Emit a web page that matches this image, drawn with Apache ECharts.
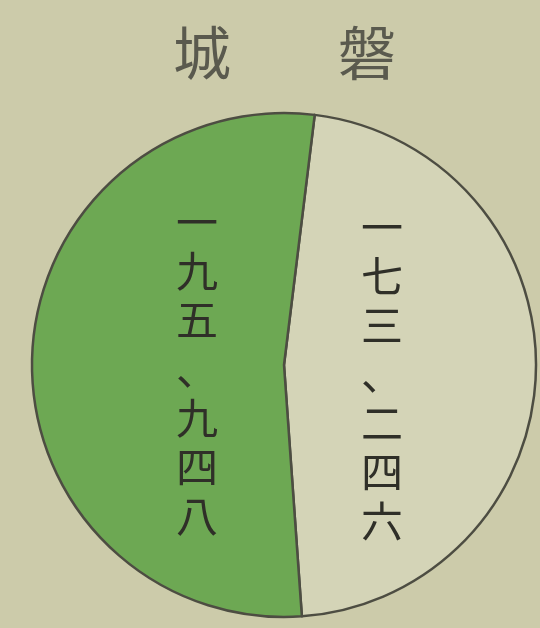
<!DOCTYPE html>
<html>
<head>
<meta charset="utf-8">
<script src="https://cdn.jsdelivr.net/npm/echarts@6/dist/echarts.min.js"></script>
<style>
html,body{margin:0;padding:0;background:#cccbaa;}
#c{width:540px;height:628px;}
</style>
</head>
<body>
<div id="c"></div>
<script>
// Data
var titleChars = ['磐', '城'];            // read right-to-left: 磐城
var categories = ['一七三、二四六', '一九五、九四八'];
var values = [173246, 195948];
var sliceColors = ['#d4d4b7', '#6da853'];

var chart = echarts.init(document.getElementById('c'));
var vertical = function (s) { return s.split('').join('\n'); };

var pieData = categories.map(function (n, i) {
  return { name: n, value: values[i], itemStyle: { color: sliceColors[i] } };
});
var labelData = categories.map(function (n, i) {
  return { name: n, value: values[i] };
});

chart.setOption({
  backgroundColor: '#cccbaa',
  animation: false,
  graphic: [
    { type: 'text', x: 367, y: 53, style: { text: titleChars[0], font: '58px "Noto Sans CJK JP"', fill: '#5a5a4e', textAlign: 'center', textVerticalAlign: 'middle' } },
    { type: 'text', x: 202, y: 53, style: { text: titleChars[1], font: '58px "Noto Sans CJK JP"', fill: '#5a5a4e', textAlign: 'center', textVerticalAlign: 'middle' } }
  ],
  series: [
    {
      type: 'pie',
      center: [284, 365],
      radius: [0, 252],
      startAngle: 83,
      clockwise: true,
      silent: true,
      label: { show: false },
      labelLine: { show: false },
      itemStyle: { borderColor: '#4d4d42', borderWidth: 2.5 },
      data: pieData
    },
    {
      type: 'pie',
      center: [284, 372],
      radius: [0, 186],
      startAngle: 83,
      clockwise: true,
      silent: true,
      itemStyle: { color: 'rgba(0,0,0,0)', borderWidth: 0 },
      labelLine: { show: false },
      labelLayout: function (p) { return p.dataIndex === 1 ? { dx: 9 } : { dx: 2 }; },
      label: {
        show: true,
        position: 'inside',
        formatter: function (p) { return vertical(p.name); },
        fontFamily: '"Noto Sans CJK JP"',
        fontSize: 42,
        lineHeight: 49,
        color: '#2f2f28',
        textBorderWidth: 0
      },
      data: labelData
    }
  ]
});
</script>
</body>
</html>
